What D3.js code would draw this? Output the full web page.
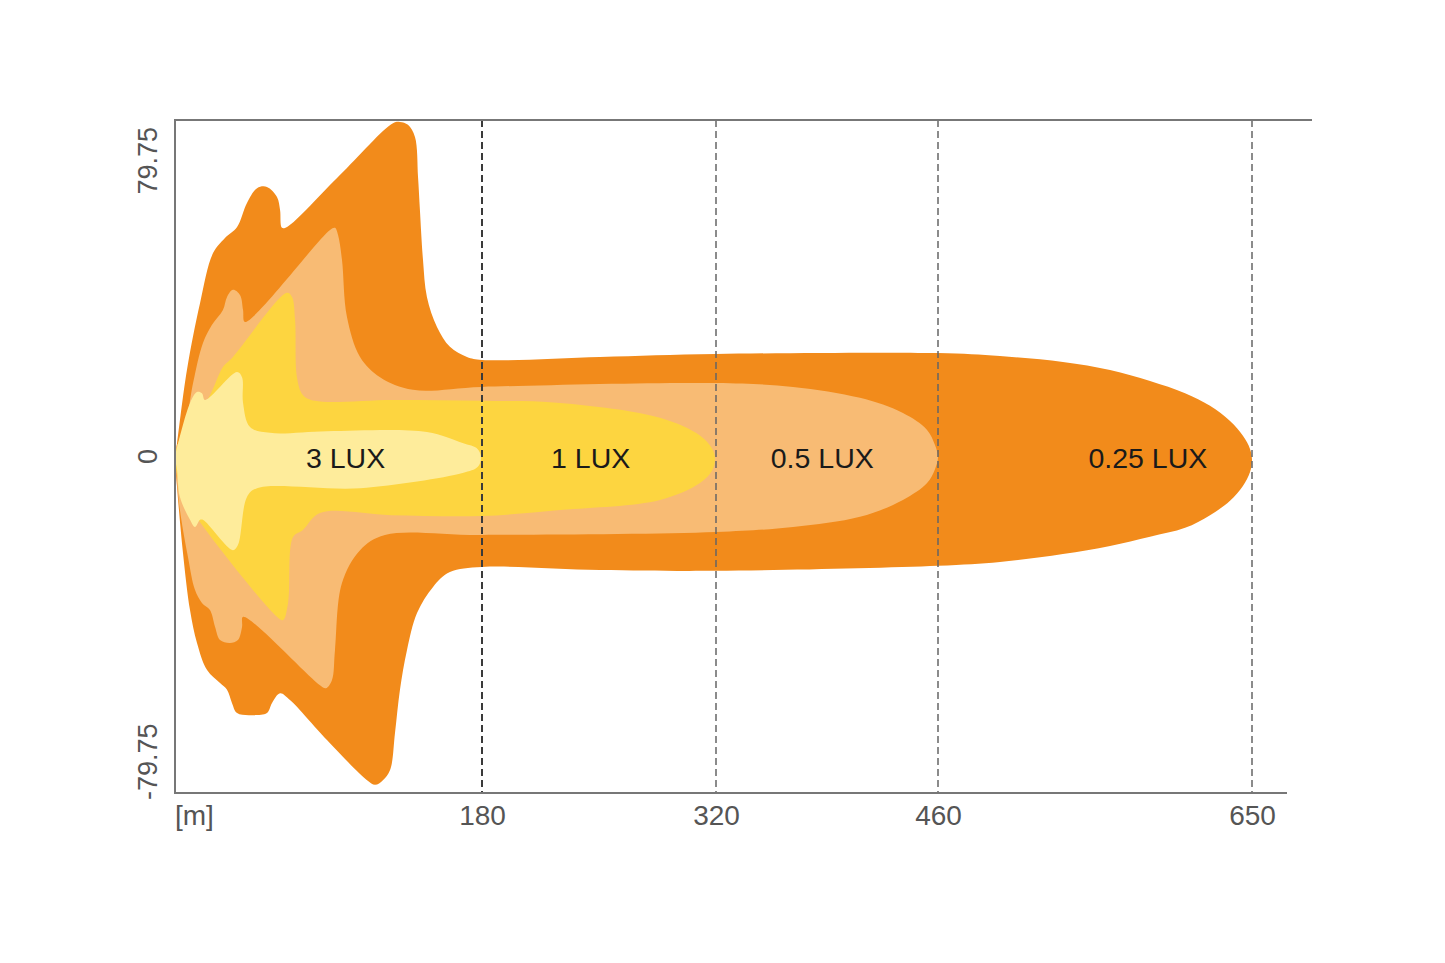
<!DOCTYPE html>
<html>
<head>
<meta charset="utf-8">
<script src="https://cdn.jsdelivr.net/npm/d3@7"></script>
<style>
  html, body { margin: 0; padding: 0; background: #fff; }
  svg { display: block; }
  text { font-family: "Liberation Sans", Arial, Helvetica, sans-serif; }
</style>
</head>
<body>
<svg id="canvas"></svg>
<script>
"use strict";

// axis ticks
const xTicks = [180, 320, 460, 650];
const xBreaks = [0, 180, 320, 460, 650];
const yTicks = [79.75, 0, -79.75];

// isolux labels and where they sit (distance in m)
const luxLabels = ["3 LUX", "1 LUX", "0.5 LUX", "0.25 LUX"];
const luxLabelAt = [100, 245, 387, 587];

// contour outlines: [distance m, lateral m], top side then bottom side
const contour025 = [
  [0, 0], [0.6, 1.5], [1.2, 3.2], [7.0, 20.5], [14.7, 36.4], [22.3, 48.2],
  [29.3, 51.8], [36.4, 54.4], [42.2, 60.1], [48.1, 63.6], [53.9, 63.9],
  [59.8, 61.5], [61.6, 58.4], [62.7, 54.2], [65.7, 54.4], [96.7, 66.7],
  [127.8, 79.0], [131.9, 79.3], [136.6, 78.6], [140.7, 75.7], [142.5, 66.2],
  [143.6, 58.4], [145.4, 46.6], [147.7, 37.8], [153.6, 30.7], [161.2, 26.0],
  [171.2, 23.6], [180, 22.9], [250.6, 23.6], [320, 24.3], [460, 24.5],
  [497.5, 23.8], [535.6, 22.4], [564.1, 20.5], [588.3, 17.9], [609.5, 15.0],
  [624.6, 12.0], [636.7, 8.4], [644.5, 4.9], [648.8, 1.8], [650, -0.8],
  [648.8, -3.7], [644.5, -7.0], [636.7, -10.5], [624.6, -13.9], [609.5, -16.9],
  [588.3, -19.0], [564.1, -21.2], [535.6, -23.1], [497.5, -25.0],
  [460, -25.9], [320, -27.1], [250.6, -26.9], [180, -26.2], [161.2, -27.4],
  [151.3, -30.9], [141.9, -37.1], [136.0, -45.9], [131.9, -55.3],
  [129.0, -65.5], [126.1, -74.3], [121.9, -76.7], [117.3, -77.8],
  [112.6, -76.7], [89.1, -67.2], [67.4, -57.7], [61.6, -56.1], [56.9, -58.4],
  [53.9, -60.8], [45.7, -61.3], [36.4, -60.8], [33.4, -58.4], [30.5, -55.3],
  [26.4, -53.7], [18.8, -50.6], [12.9, -44.2], [8.8, -36.4], [4.7, -22.9],
  [1.2, -7.2]
];

const contour05 = [
  [0, 0], [0.6, 2.3], [4.7, 4.6], [10.6, 17.4], [16.4, 26.9], [21.7, 31.2],
  [28.1, 34.7], [30.5, 37.8], [34.0, 39.5], [38.1, 38.3], [39.9, 34.7],
  [41.0, 31.9], [90.9, 53.7], [93.8, 54.2], [95.6, 52.5], [97.9, 46.6],
  [100.8, 33.1], [108.5, 23.6], [120.2, 18.8], [139.5, 15.8], [180, 16.5],
  [320, 17.4], [368.6, 16.5], [410.8, 13.9], [437.9, 10.3], [453.1, 6.3],
  [458.1, 2.7], [460, -0.2],
  [458.1, -3.0], [453.1, -6.3], [437.9, -10.3], [410.8, -14.3], [368.6, -16.7],
  [320, -17.9],
  [180, -18.6], [123.1, -18.6], [108.5, -22.2], [97.9, -30.0], [93.8, -45.9],
  [92.0, -53.0], [88.5, -54.9], [85.0, -54.2], [39.9, -38.0], [39.3, -40.4],
  [36.9, -43.5], [32.2, -44.2], [26.4, -43.5], [23.5, -40.4], [20.5, -36.4],
  [15.8, -34.7], [11.7, -31.6], [7.6, -23.8], [2.9, -12.7], [0.6, -3.2]
];

const contour1 = [
  [0, 0], [1.2, 2.3], [8.8, 9.8], [18.8, 13.4], [28.1, 21.2], [34.0, 23.6],
  [65.7, 38.8], [68.6, 37.8], [70.4, 32.4], [71.5, 18.8], [75.0, 14.6],
  [82.1, 13.2], [127.8, 13.4], [180, 13.2], [226.7, 12.7], [286.5, 9.2],
  [310.4, 5.0], [317.6, 1.9], [319.4, -0.6],
  [317.6, -3.4], [310.4, -6.3], [286.5, -10.3], [226.7, -12.7], [180, -14.1],
  [126.7, -13.9],
  [85.0, -13.4], [75.0, -17.4], [69.2, -19.1], [66.3, -34.7], [63.3, -38.8],
  [59.8, -38.0], [15.8, -16.2], [8.8, -11.5], [2.9, -6.8]
];

const contour3 = [
  [0, 0], [0.6, 1.1], [8.8, 12.7], [12.9, 15.3], [15.8, 15.0], [17.6, 13.4],
  [36.4, 20.0], [39.3, 18.8], [39.9, 12.7], [44.0, 7.0], [55.7, 5.6],
  [89.1, 6.0], [147.7, 5.8], [168.6, 3.2], [177.4, 1.8], [179.4, -0.4],
  [177.4, -2.5], [168.6, -3.9], [108.5, -7.5], [48.1, -7.5], [42.2, -9.6],
  [36.9, -21.0], [34.0, -22.2], [16.4, -15.0], [14.7, -15.0], [11.7, -16.7],
  [8.8, -15.0], [2.9, -9.6], [1.2, -3.2]
];

const contours = [contour025, contour05, contour1, contour3];
const colors = ["#F28B1B", "#F8BB74", "#FDD540", "#FEEC9B"];

const width = 1445;
const height = 963;
const plotLeft = 175;
const plotTop = 120;
const plotBottom = 793;

const canvas = d3.select("#canvas").attr("width", width).attr("height", height);

// the distance axis is stretched differently between each marked distance
const xScale = d3.scaleLinear().domain(xBreaks).range([plotLeft, 482, 716, 938, 1252]);
const yScale = d3.scaleLinear().domain([-79.75, 79.75]).range([plotBottom, plotTop]);

const outline = d3
  .line()
  .x((d) => xScale(d[0]))
  .y((d) => yScale(d[1]))
  .curve(d3.curveCatmullRomClosed.alpha(0.5));

canvas
  .append("g")
  .selectAll("path")
  .data(contours)
  .enter()
  .append("path")
  .attr("d", (d) => outline(d))
  .attr("fill", (d, i) => colors[i]);

// dashed distance markers
canvas
  .append("g")
  .selectAll("line")
  .data(xTicks)
  .enter()
  .append("line")
  .attr("x1", (d) => xScale(d))
  .attr("x2", (d) => xScale(d))
  .attr("y1", plotTop)
  .attr("y2", plotBottom)
  .attr("stroke", (d, i) => (i === 0 ? "#3a3a3a" : "#666"))
  .attr("stroke-width", (d, i) => (i === 0 ? 2 : 1.5))
  .attr("stroke-dasharray", "7,4");

// frame
const frame = canvas.append("g").attr("stroke", "#777").attr("stroke-width", 2);
frame.append("line").attr("x1", plotLeft).attr("x2", xScale(650) + 60).attr("y1", plotTop).attr("y2", plotTop);
frame.append("line").attr("x1", plotLeft).attr("x2", xScale(650) + 35).attr("y1", plotBottom).attr("y2", plotBottom);
frame.append("line").attr("x1", plotLeft).attr("x2", plotLeft).attr("y1", plotTop - 1).attr("y2", plotBottom + 1);

// x labels
const xAxis = d3.axisBottom(xScale).tickValues(xTicks).tickSize(0).tickPadding(12);
const gx = canvas.append("g").attr("transform", `translate(0,${plotBottom})`).call(xAxis);
gx.select(".domain").remove();
gx.selectAll("text")
  .attr("font-size", 28)
  .attr("font-family", '"Liberation Sans", Arial, sans-serif')
  .attr("fill", "#555");

canvas
  .append("text")
  .attr("x", plotLeft)
  .attr("y", 825)
  .attr("font-size", 28)
  .attr("fill", "#555")
  .text("[m]");

// y labels, turned on their side
canvas
  .append("g")
  .selectAll("text")
  .data(yTicks)
  .enter()
  .append("text")
  .attr("transform", (d) => `translate(157,${yScale(d) + (d === 0 ? 0 : 7)}) rotate(-90)`)
  .attr("text-anchor", (d) => (d > 0 ? "end" : d < 0 ? "start" : "middle"))
  .attr("font-size", 27)
  .attr("fill", "#555")
  .text((d) => d);

// lux labels
canvas
  .append("g")
  .selectAll("text")
  .data(luxLabels)
  .enter()
  .append("text")
  .attr("x", (d, i) => xScale(luxLabelAt[i]))
  .attr("y", yScale(0) + 11)
  .attr("text-anchor", "middle")
  .attr("font-size", 28.5)
  .attr("fill", "#1a1a1a")
  .text((d) => d);
</script>
</body>
</html>
